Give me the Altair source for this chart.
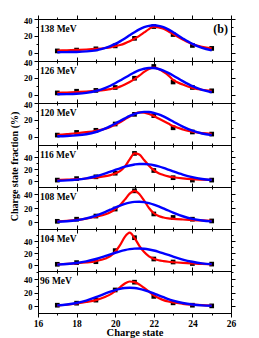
import altair as alt
import pandas as pd

# ---- data ----
charge = [17, 18, 19, 20, 21, 22, 23, 24, 25]
grid = [17, 17.5, 18, 18.5, 19, 19.5, 19.75, 20, 20.25, 20.5, 20.75, 21,
        21.25, 21.5, 21.75, 22, 22.25, 22.5, 22.75, 23, 23.5, 24, 24.5, 25]
energies = ["138 MeV", "126 MeV", "120 MeV", "116 MeV", "108 MeV", "104 MeV", "96 MeV"]
y_top = [40, 40, 40, 60, 50, 60, 52]
y_bottom = -10

exp_138 = [2, 3, 4.5, 8, 17, 31, 21.5, 8.5, 5]
exp_126 = [2, 4, 5, 8.5, 19.5, 33.5, 15, 8.5, 4.5]
exp_120 = [1.8, 5, 7.5, 15, 26.5, 25, 10.5, 5.5, 3]
exp_116 = [1.5, 4, 7, 13, 46, 17.5, 5.5, 1.5, 1.5]
exp_108 = [1, 4, 8.5, 18.5, 44.5, 11.5, 6.5, 4, 1.5]
exp_104 = [1.2, 4, 5.5, 24, 45.5, 10, 5, 2.5, 1.5]
exp_96 = [1.5, 4.5, 9, 24, 35.5, 14.5, 5, 1.5, 0.5]

red_138 = [2.4, 2.8, 3.2, 3.7, 4.4, 5.5, 6.3, 7.5, 9, 11, 13.5, 16.5, 20, 24, 28, 31, 30, 28.5, 25.5, 22, 15.5, 10, 7, 5]
red_126 = [2, 2.5, 3, 3.6, 4.4, 5.6, 6.5, 7.8, 9.5, 12, 15, 18.5, 22.5, 27, 30.5, 32, 30.5, 27, 23, 17.5, 12, 8, 5.8, 4.5]
red_120 = [2, 3, 4, 5.3, 7, 9.5, 11.5, 14, 17, 20.5, 24, 27, 28.8, 28.5, 27, 24.5, 21.5, 18.5, 15.5, 12.5, 8.5, 5.8, 4.2, 3.3]
red_116 = [1.5, 2.2, 3, 4.2, 5.8, 8, 9.8, 12.5, 16.5, 24, 36, 46, 44, 35, 25.5, 18, 13, 10, 7.8, 6.3, 4.3, 3, 2.3, 1.8]
red_108 = [1, 1.8, 3, 4.8, 7.5, 11, 14, 18.5, 24, 32, 40.5, 44.5, 40, 30.5, 20, 12.5, 8.5, 6.5, 5.3, 4.6, 3.6, 2.8, 2.2, 1.6]
red_104 = [1, 1.8, 2.8, 4.2, 6.5, 11, 15, 22, 33, 47, 54, 45, 32, 21.5, 14.5, 10.5, 8, 6.5, 5.4, 4.6, 3.4, 2.5, 1.8, 1.2]
red_96 = [1, 2.2, 4, 6.2, 9, 14, 17.5, 22.5, 28, 33.5, 36.5, 35.5, 32, 27, 21.5, 16, 12, 9, 7, 5.5, 3.6, 2.4, 1.6, 1.1]

blue_138 = [0.5, 0.6, 0.8, 1.4, 2.7, 5.5, 7.7, 10.3, 13.4, 16.9, 20.7, 24.3, 27.6, 30.2, 31.9, 32.5, 31.9, 30.2, 27.6, 24.3, 16.9, 10.3, 5.5, 2.7]
blue_126 = [0.4, 0.55, 1.0, 2.1, 4.3, 8.0, 10.5, 13.5, 16.7, 20.1, 23.4, 26.5, 29.0, 30.8, 31.7, 31.6, 30.5, 28.6, 25.9, 22.8, 16.0, 10.0, 5.6, 2.8]
blue_120 = [0.4, 0.7, 1.4, 2.8, 5.5, 9.8, 12.5, 15.5, 18.6, 21.7, 24.6, 26.9, 28.6, 29.4, 29.3, 28.3, 26.5, 24.0, 21.1, 18.0, 11.9, 7.0, 3.7, 1.8]
blue_116 = [0.4, 1.0, 2.2, 4.4, 7.9, 12.8, 15.6, 18.4, 21.2, 23.8, 25.9, 27.5, 28.4, 28.4, 27.7, 26.3, 24.3, 21.8, 19.0, 16.1, 10.7, 6.4, 3.4, 1.6]
blue_108 = [0.4, 1.1, 2.5, 5.1, 9.2, 14.6, 17.6, 20.6, 23.4, 25.8, 27.6, 28.7, 29.0, 28.4, 27.0, 24.9, 22.3, 19.4, 16.4, 13.4, 8.2, 4.5, 2.2, 0.9]
blue_104 = [0.7, 1.6, 3.3, 6.0, 10.0, 15.1, 17.7, 20.4, 22.8, 24.8, 26.4, 27.3, 27.5, 27.0, 25.8, 24.1, 21.9, 19.3, 16.7, 14.0, 9.1, 5.4, 2.8, 1.4]
blue_96 = [1.2, 2.5, 4.8, 8.4, 13.3, 18.9, 21.6, 23.9, 25.7, 26.9, 27.3, 26.9, 25.7, 23.9, 21.6, 18.9, 16.0, 13.3, 10.6, 8.4, 4.8, 2.5, 1.2, 0.6]

exps = [exp_138, exp_126, exp_120, exp_116, exp_108, exp_104, exp_96]
reds = [red_138, red_126, red_120, red_116, red_108, red_104, red_96]
blues = [blue_138, blue_126, blue_120, blue_116, blue_108, blue_104, blue_96]

FONT = "Liberation Serif"
W, H = 193, 42

xs = alt.Scale(domain=[16, 26], nice=False)
x_vals = list(range(16, 27))
x_tick = {"condition": {"test": "datum.value % 2 === 0", "value": 4}, "value": 2}
y_tick = {"condition": {"test": "datum.value % 20 === 0", "value": 4}, "value": 2}


def make_panel(i):
    n = len(energies)
    last = i == n - 1
    top = y_top[i]
    ys = alt.Scale(domain=[y_bottom, top], nice=False, zero=False)
    yvals = [v for v in range(0, 51, 10) if v <= top and not (v == top and v != 40)]

    pts = pd.DataFrame({"q": charge, "f": exps[i]})
    cur = pd.DataFrame({"q": grid, "red": reds[i], "blue": blues[i]})

    x_main = alt.Axis(values=x_vals, labels=last, tickSize=x_tick,
                      labelExpr="datum.value % 2 === 0 ? datum.label : ''",
                      labelFlush=False, labelFont=FONT, labelFontSize=9.5,
                      labelFontWeight="bold", labelPadding=1, grid=False,
                      title="Charge state" if last else None,
                      titleFont=FONT, titleFontSize=10.5, titleFontWeight="bold",
                      titlePadding=0)
    y_args = dict(values=yvals, tickSize=y_tick,
                  labelExpr="datum.value % 20 === 0 ? datum.label : ''",
                  labelFont=FONT, labelFontSize=8.5, labelFontWeight="bold",
                  labelPadding=2, grid=False,
                  title="Charge state fraction (%)" if i == 3 else None,
                  titleFont=FONT, titleFontSize=10, titleFontWeight="bold",
                  titlePadding=4)
    if top == 40:
        y_args["labelOffset"] = {"condition": {"test": "datum.value === 40", "value": 1.5},
                                 "value": 0}
    y_main = alt.Axis(**y_args)
    x_top = alt.Axis(values=x_vals, orient="top", labels=False, tickSize=x_tick,
                     grid=False, title=None)
    y_right = alt.Axis(values=yvals, orient="right", labels=False, tickSize=y_tick,
                       grid=False, title=None)

    points = alt.Chart(pts).mark_point(shape="square", filled=True, color="black",
                                       size=22, opacity=1).encode(
        x=alt.X("q:Q", scale=xs, axis=x_top),
        y=alt.Y("f:Q", scale=ys, axis=y_right),
    )
    red = alt.Chart(cur).mark_line(color="#ff0000", strokeWidth=2.2,
                                   interpolate="monotone").encode(
        x=alt.X("q:Q", scale=xs, axis=x_main),
        y=alt.Y("red:Q", scale=ys, axis=y_main),
    )
    blue = alt.Chart(cur).mark_line(color="#0000ff", strokeWidth=2.4,
                                    interpolate="monotone").encode(
        x=alt.X("q:Q", scale=xs, axis=None),
        y=alt.Y("blue:Q", scale=ys, axis=None),
    )
    lab = alt.Chart(pd.DataFrame({"t": [energies[i]]})).mark_text(
        align="left", baseline="middle", font=FONT, fontSize=9.5,
        fontWeight="bold", color="black").encode(
        text="t:N", x=alt.value(2), y=alt.value(9.5))
    layers = [points, red, blue, lab]
    if i == 0:
        tag = alt.Chart(pd.DataFrame({"t": ["(b)"]})).mark_text(
            align="right", baseline="middle", font=FONT, fontSize=12,
            fontWeight="bold", color="black").encode(
            text="t:N", x=alt.value(190), y=alt.value(10))
        layers.append(tag)
    return alt.layer(*layers).resolve_axis(x="independent", y="independent").properties(
        width=W, height=H)


panels = [make_panel(i) for i in range(len(energies))]

chart = alt.vconcat(*panels, spacing=0, bounds="flush").properties(
    padding={"left": 0, "top": 6, "right": 4, "bottom": 0}
).configure_view(
    stroke="black", strokeWidth=1
).configure_axis(
    domainColor="black", tickColor="black", labelColor="black",
    titleColor="black", domainWidth=1, tickWidth=1
)

chart.save("out.html", embed_options={"renderer": "svg", "actions": False})
